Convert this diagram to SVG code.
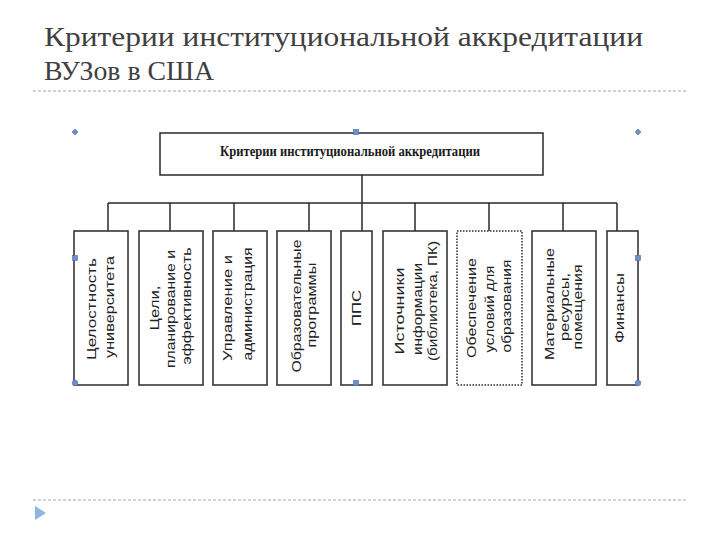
<svg xmlns="http://www.w3.org/2000/svg" width="720" height="540" viewBox="0 0 720 540">
<style>
.title{font-family:"Liberation Serif","DejaVu Serif",serif;font-size:27px;fill:#404040}
.box{fill:#fff;stroke:#2a2a2a;stroke-width:1.5}
.dot{stroke-dasharray:1.5 1.5}
.line{stroke:#2a2a2a;stroke-width:1.5;fill:none}
.head{font-family:"Liberation Serif","DejaVu Serif",serif;font-size:14px;font-weight:bold;fill:#1a1a1a}
.lbl{font-family:"Liberation Sans","DejaVu Sans",sans-serif;font-size:12px;fill:#222;text-anchor:middle}
.sep{stroke:#aaaaaa;stroke-width:1.2;stroke-dasharray:3 2}
.h{fill:#6f8fc8;stroke:#4a6aa8;stroke-width:0.6}
</style>
<rect width="720" height="540" fill="#fff"/>
<g id="title">
<text class="title" x="44" y="46" textLength="599" lengthAdjust="spacingAndGlyphs">Критерии институциональной аккредитации</text>
<text class="title" x="44" y="80" textLength="170" lengthAdjust="spacingAndGlyphs">ВУЗов в США</text>
</g>
<line class="sep" x1="33" y1="91" x2="688" y2="91"/>
<line class="sep" x1="33" y1="500" x2="688" y2="500"/>
<polygon points="35,506 46,513 35,520" fill="#8eb4e3"/>
<g id="connectors">
<path class="line" d="M362 175V231M108 203H617M108 203V231M170 203V231M234 203V231M309 203V231M415 203V231M489 203V231M563 203V231M617 203V231"/>
</g>
<g id="root">
<rect class="box" x="160" y="133" width="383" height="42"/>
<text class="head" x="220" y="156" textLength="260" lengthAdjust="spacingAndGlyphs">Критерии институциональной аккредитации</text>
</g>
<g id="n1">
<rect class="box" x="74" y="231" width="54" height="154"/>
<text class="lbl" transform="translate(96,309) rotate(-90)" textLength="102" lengthAdjust="spacingAndGlyphs">Целостность</text>
<text class="lbl" transform="translate(114,307) rotate(-90)" textLength="102" lengthAdjust="spacingAndGlyphs">университета</text>
</g>
<g id="n2">
<rect class="box" x="139" y="231" width="64" height="154"/>
<text class="lbl" transform="translate(159,308) rotate(-90)" textLength="45" lengthAdjust="spacingAndGlyphs">Цели,</text>
<text class="lbl" transform="translate(175,309) rotate(-90)" textLength="118" lengthAdjust="spacingAndGlyphs">планирование и</text>
<text class="lbl" transform="translate(191,306) rotate(-90)" textLength="117" lengthAdjust="spacingAndGlyphs">эффективность</text>
</g>
<g id="n3">
<rect class="box" x="213" y="231" width="54" height="154"/>
<text class="lbl" transform="translate(232,308) rotate(-90)" textLength="106" lengthAdjust="spacingAndGlyphs">Управление и</text>
<text class="lbl" transform="translate(252,304) rotate(-90)" textLength="113" lengthAdjust="spacingAndGlyphs">администрация</text>
</g>
<g id="n4">
<rect class="box" x="277" y="231" width="54" height="154"/>
<text class="lbl" transform="translate(301,306) rotate(-90)" textLength="133" lengthAdjust="spacingAndGlyphs">Образовательные</text>
<text class="lbl" transform="translate(316,305) rotate(-90)" textLength="85" lengthAdjust="spacingAndGlyphs">программы</text>
</g>
<g id="n5">
<rect class="box" x="341" y="231" width="31" height="154"/>
<text class="lbl" transform="translate(361,308) rotate(-90)" textLength="36" lengthAdjust="spacingAndGlyphs">ППС</text>
</g>
<g id="n6">
<rect class="box" x="383" y="231" width="64" height="154"/>
<text class="lbl" transform="translate(404,311) rotate(-90)" textLength="87" lengthAdjust="spacingAndGlyphs">Источники</text>
<text class="lbl" transform="translate(422,309) rotate(-90)" textLength="92" lengthAdjust="spacingAndGlyphs">информации</text>
<text class="lbl" transform="translate(437,301) rotate(-90)" textLength="120" lengthAdjust="spacingAndGlyphs">(библиотека, ПК)</text>
</g>
<g id="n7">
<rect class="box dot" x="457" y="231" width="65" height="154"/>
<text class="lbl" transform="translate(476,308) rotate(-90)" textLength="100" lengthAdjust="spacingAndGlyphs">Обеспечение</text>
<text class="lbl" transform="translate(494,309) rotate(-90)" textLength="87" lengthAdjust="spacingAndGlyphs">условий для</text>
<text class="lbl" transform="translate(511,306) rotate(-90)" textLength="93" lengthAdjust="spacingAndGlyphs">образования</text>
</g>
<g id="n8">
<rect class="box" x="532" y="231" width="64" height="154"/>
<text class="lbl" transform="translate(554,304) rotate(-90)" textLength="112" lengthAdjust="spacingAndGlyphs">Материальные</text>
<text class="lbl" transform="translate(569,307) rotate(-90)" textLength="68" lengthAdjust="spacingAndGlyphs">ресурсы,</text>
<text class="lbl" transform="translate(582,307) rotate(-90)" textLength="85" lengthAdjust="spacingAndGlyphs">помещения</text>
</g>
<g id="n9">
<rect class="box" x="607" y="231" width="31" height="154"/>
<text class="lbl" transform="translate(624,308) rotate(-90)" textLength="70" lengthAdjust="spacingAndGlyphs">Финансы</text>
</g>
<g id="handles">
<polygon class="h" points="75,129 78,132 75,135 72,132"/>
<rect class="h" x="353.5" y="129.5" width="5" height="5"/>
<polygon class="h" points="638,129 641,132 638,135 635,132"/>
<rect class="h" x="72.5" y="255.5" width="5" height="5"/>
<rect class="h" x="635.5" y="255.5" width="5" height="5"/>
<circle class="h" cx="75" cy="383" r="2.8"/>
<rect class="h" x="353.5" y="380.5" width="5" height="5"/>
<circle class="h" cx="638" cy="383" r="2.8"/>
</g>
</svg>
